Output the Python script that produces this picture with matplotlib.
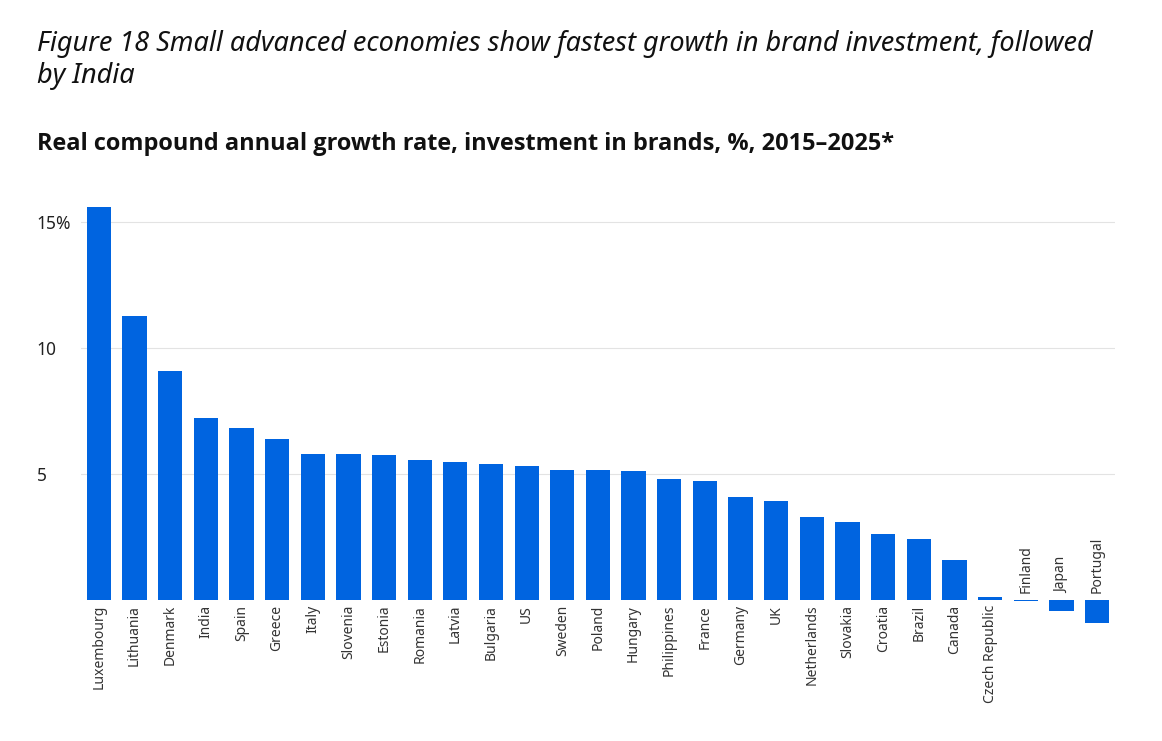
import matplotlib
matplotlib.use("Agg")
import matplotlib.pyplot as plt

countries = ["Luxembourg","Lithuania","Denmark","India","Spain","Greece","Italy","Slovenia","Estonia",
             "Romania","Latvia","Bulgaria","US","Sweden","Poland","Hungary","Philippines","France",
             "Germany","UK","Netherlands","Slovakia","Croatia","Brazil","Canada","Czech Republic",
             "Finland","Japan","Portugal"]
values = [15.6,11.27,9.09,7.22,6.83,6.39,5.79,5.79,5.75,5.56,5.48,5.40,5.32,5.16,5.16,5.12,4.80,4.72,
          4.09,3.93,3.29,3.10,2.62,2.42,1.59,0.12,-0.06,-0.44,-0.91]
yticks = [5, 10, 15]
ytick_labels = ["5", "10", "15%"]

plt.rcParams['font.family'] = ['Noto Sans', 'DejaVu Sans']
fig = plt.figure(figsize=(11.62, 7.41), dpi=100)
ax = fig.add_axes([0.0697, 0.1566, 0.8898, 0.568])
x = range(len(countries))
ax.bar(x, values, width=0.68, color="#0064E0", zorder=3)
ax.set_xlim(-0.5, len(countries) - 0.5)
ax.set_ylim(-1.0, 15.7)
ax.set_yticks(yticks)
ax.set_yticklabels(ytick_labels, fontsize=12.5, color="#222222", ha="left")
ax.tick_params(axis="y", length=0, pad=32)
ax.grid(axis="y", color="#e3e3e3", lw=0.8, zorder=0)
for s in ax.spines.values():
    s.set_visible(False)
ax.set_xticks([])
for i, (c, v) in enumerate(zip(countries, values)):
    if v < 0:
        ax.text(i, 0.25, c, rotation=90, ha="center", va="bottom", fontsize=10, color="#333333")
    else:
        ax.text(i, -0.2, c, rotation=90, ha="center", va="top", fontsize=10, color="#333333")

fig.text(0.032, 0.96, "Figure 18 Small advanced economies show fastest growth in brand investment, followed\nby India",
         fontsize=19.5, style="italic", va="top", linespacing=1.2, color="#111111")
fig.text(0.032, 0.805, "Real compound annual growth rate, investment in brands, %, 2015–2025*",
         fontsize=16.9, fontweight="bold", family=["Open Sans", "DejaVu Sans"], va="center", color="#111111")
fig.savefig("out.png", dpi=100)
